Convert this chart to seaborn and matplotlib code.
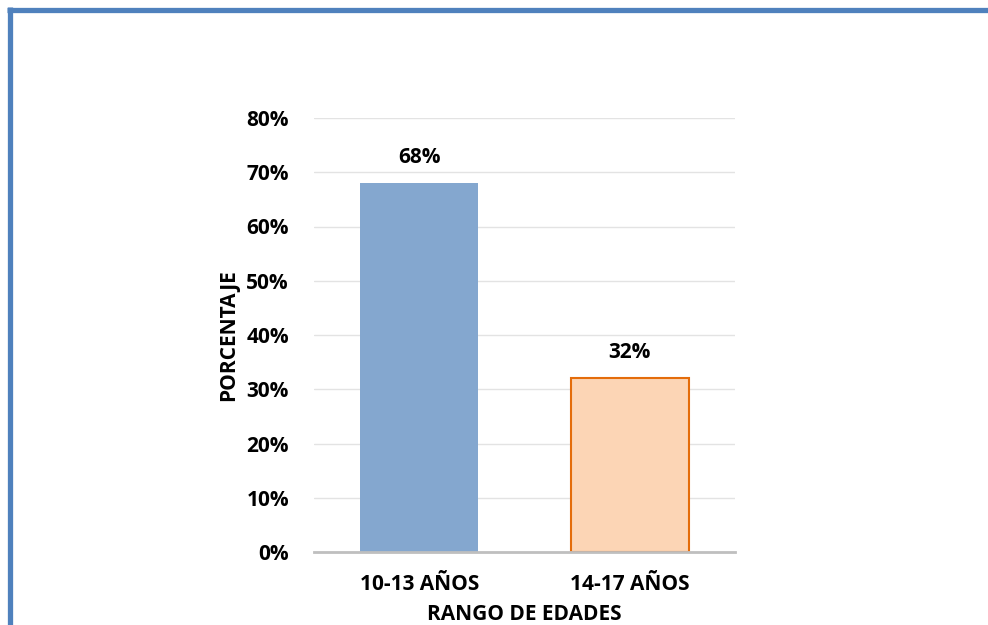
import matplotlib
matplotlib.use("Agg")
import matplotlib.pyplot as plt
from matplotlib.lines import Line2D
from matplotlib.ticker import FuncFormatter
import seaborn as sns
import pandas as pd

categories = ["10-13 AÑOS", "14-17 AÑOS"]
values = [0.68, 0.32]
value_labels = ["68%", "32%"]
y_ticks = [0.0, 0.1, 0.2, 0.3, 0.4, 0.5, 0.6, 0.7, 0.8]

sns.set_theme(style="white")
plt.rcParams["font.family"] = ["Open Sans", "DejaVu Sans"]

df = pd.DataFrame({"rango": categories, "pct": values})

fig = plt.figure(figsize=(9.88, 6.25), dpi=100)
ax = fig.add_axes([0.3178, 0.1168, 0.744 - 0.3178, 0.8112 - 0.1168])

sns.barplot(data=df, x="rango", y="pct", hue="rango",
            palette=["#84a7cf", "#fcd5b5"], width=0.56,
            legend=False, ax=ax, saturation=1)
patches = ax.patches
patches[0].set_edgecolor("none")
patches[1].set_edgecolor("#e46c0a")
patches[1].set_linewidth(1.5)

FS = 15
for p, lab in zip(patches, value_labels):
    ax.annotate(lab, (p.get_x() + p.get_width() / 2, p.get_height()),
                xytext=(0, 11), textcoords="offset points",
                ha="center", va="bottom", fontsize=FS, fontweight="bold",
                color="black")

ax.set_ylim(0, 0.8)
ax.set_yticks(y_ticks)
ax.yaxis.set_major_formatter(FuncFormatter(lambda v, _: f"{round(v * 100)}%"))
ax.grid(axis="y", color="#e3e3e3", linewidth=1)
ax.set_axisbelow(True)
for s in ["top", "right", "left"]:
    ax.spines[s].set_visible(False)
ax.spines["bottom"].set_color("#bfbfbf")
ax.spines["bottom"].set_linewidth(2)
ax.tick_params(axis="both", length=0, labelsize=FS, colors="black")
ax.tick_params(axis="y", pad=18)
ax.tick_params(axis="x", pad=16)
for t in ax.get_xticklabels() + ax.get_yticklabels():
    t.set_fontweight("bold")

ax.set_xlabel("RANGO DE EDADES", fontsize=FS, fontweight="bold",
              color="black", labelpad=6)
ax.set_ylabel("PORCENTAJE", fontsize=FS, fontweight="bold",
              color="black", labelpad=5)

# frame lines on the top and left edges
fig.add_artist(Line2D([7 / 988, 1.0], [1 - 9.5 / 625, 1 - 9.5 / 625],
                      transform=fig.transFigure, color="#4f81bd",
                      linewidth=3.8, solid_capstyle="butt"))
fig.add_artist(Line2D([9.5 / 988, 9.5 / 988], [1 - 7 / 625, 0.0],
                      transform=fig.transFigure, color="#4f81bd",
                      linewidth=3.8, solid_capstyle="butt"))

fig.savefig("out.png", dpi=100)
